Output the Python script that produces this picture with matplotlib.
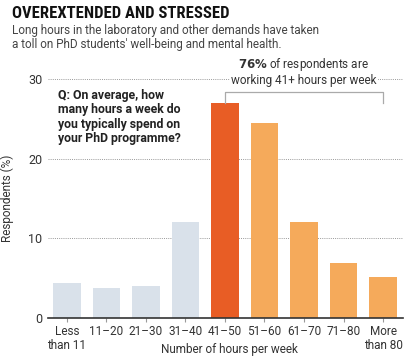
import matplotlib
matplotlib.use("Agg")
import matplotlib.pyplot as plt
import logging
logging.getLogger('matplotlib.font_manager').setLevel(logging.ERROR)

categories = ["Less\nthan 11", "11–20", "21–30", "31–40", "41–50", "51–60", "61–70", "71–80", "More\nthan 80"]
values = [4.4, 3.8, 4.0, 12.0, 27.0, 24.5, 12.0, 6.9, 5.1]
colors = ["#d9e1ea"] * 4 + ["#e85d25"] + ["#f5aa5b"] * 4
yticks = [0, 10, 20, 30]

plt.rcParams['font.family'] = ['Roboto', 'DejaVu Sans']

fig = plt.figure(figsize=(4.15, 3.59), dpi=100)
ax = fig.add_axes([48/415, 1-318/359, (403-48)/415, (318-79)/359])

x = list(range(len(categories)))
ax.bar(x, values, width=0.7, color=colors, zorder=2)
ax.set_xlim(-0.48, 8.506)
ax.set_ylim(0, 30)
ax.set_yticks(yticks)
for t in yticks[1:]:
    ax.axhline(t, color="#999999", lw=0.7, ls=(0, (1, 1.2)), zorder=1)
for s in ["top", "right", "left"]:
    ax.spines[s].set_visible(False)
ax.spines["bottom"].set_color("#333333")
ax.spines["bottom"].set_linewidth(1.2)
ax.set_xticks(x)
ax.set_xticklabels(categories, fontsize=8.5, color="#333333", linespacing=1.1)
ax.tick_params(axis="x", length=3, color="#999999", pad=2)
ax.tick_params(axis="y", length=0, labelsize=9, colors="#333333", pad=4)
ax.set_xlabel("Number of hours per week", fontsize=8.5, color="#333333")
ax.xaxis.set_label_coords(0.51, -0.105)
ax.set_ylabel("Respondents (%)", fontsize=8.5, color="#333333")
ax.yaxis.set_label_coords(-0.095, 0.5)

# question text
ax.text(-0.23, 28.75, "Q: On average, how\nmany hours a week do\nyou typically spend on\nyour PhD programme?",
        fontsize=8.8, fontweight="bold", color="#222222", va="top", ha="left", linespacing=1.15, zorder=3)

# bracket
ax.plot([4, 4, 8, 8], [27.0, 28.35, 28.35, 27.0], color="#aaaaaa", lw=0.9, clip_on=False, zorder=3)
ax.text(6.0, 29.0, r"$\mathbf{76\%}$ of respondents are" "\nworking 41+ hours per week",
        fontsize=8.5, color="#333333", ha="center", va="bottom", linespacing=1.1,
        bbox=dict(facecolor="white", edgecolor="none", pad=1), clip_on=False, zorder=3)

fig.text(12/415, 1-13/359, "OVEREXTENDED AND STRESSED", fontsize=12.0, fontweight="heavy",
         family=['Roboto Condensed', 'Liberation Sans Narrow', 'DejaVu Sans Condensed', 'Roboto', 'DejaVu Sans'],
         color="#111111", va="center", ha="left")
fig.text(12/415, 1-24/359, "Long hours in the laboratory and other demands have taken\na toll on PhD students' well-being and mental health.",
         fontsize=8.5, color="#444444", va="top", ha="left", linespacing=1.1)

fig.savefig("out.png", dpi=100)
